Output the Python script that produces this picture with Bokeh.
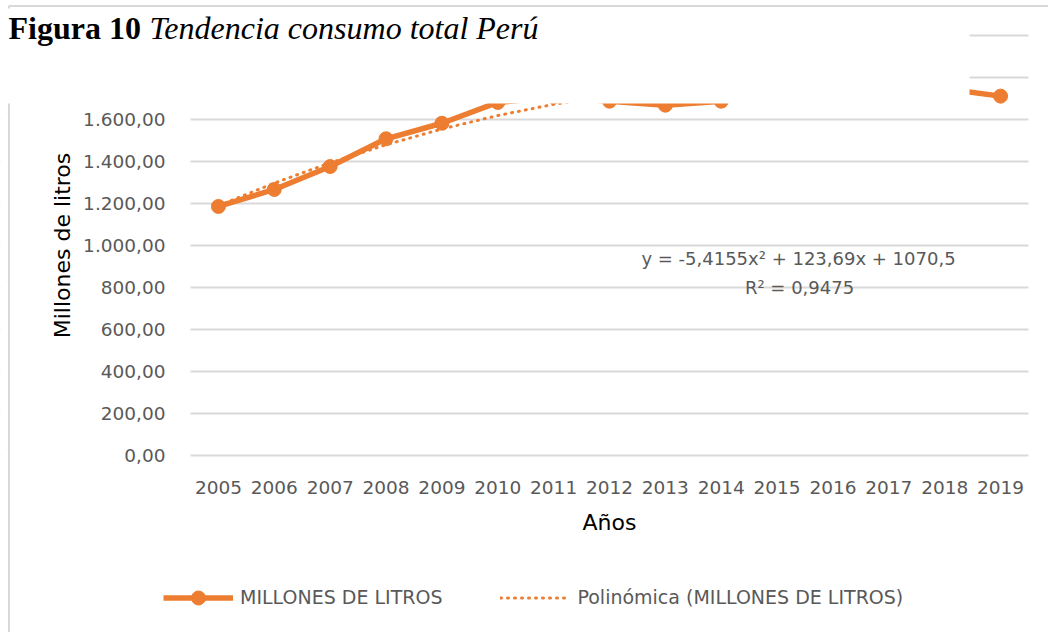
import numpy as np
from bokeh.plotting import figure
from bokeh.models import Range1d, FixedTicker, BoxAnnotation, Label, Legend, LegendItem
from bokeh.embed import file_html
from bokeh.resources import INLINE

# ---------------- data ----------------
years = [2005, 2006, 2007, 2008, 2009, 2010, 2011, 2012, 2013, 2014, 2015, 2016, 2017, 2018, 2019]
year_labels = [str(y) for y in years]
consumo = [1185, 1266, 1375, 1507, 1581, 1680, 1706, 1686, 1667, 1686, 1840, 1782, 1770, 1745, 1710]
trend_coef = [-5.4155, 123.69, 1070.5]   # polynomial trendline shown on the chart (x = 1..15)
y_ticks = [0, 200, 400, 600, 800, 1000, 1200, 1400, 1600, 1800, 2000]
y_tick_labels = ["0,00", "200,00", "400,00", "600,00", "800,00", "1.000,00",
                 "1.200,00", "1.400,00", "1.600,00", "1.800,00", "2.000,00"]
series_name = "MILLONES DE LITROS"
trend_name = "Polinómica (MILLONES DE LITROS)"
equation_text = "y = -5,4155x² + 123,69x + 1070,5"
r2_text = "R² = 0,9475"
title_bold = "Figura 10"
title_italic = "Tendencia consumo total Perú"

idx = np.arange(1, len(years) + 1)
trend = np.polyval(trend_coef, idx)

# ---------------- layout (pixels on the page) ----------------
W, H = 1048, 632
PA_L, PA_R = 190, 1028          # plot area left / right
PA_Y0, PA_YTOP = 455, 34.7      # pixel of value 0 and of the axis maximum
Y_MAX = 2000
ORANGE = "#ED7D31"
GREY_TXT = "#595959"
GRID = "#D9D9D9"
FONT = "DejaVu Sans"

px_per_cat = (PA_R - PA_L) / len(years)
px_per_unit = (PA_Y0 - PA_YTOP) / Y_MAX
x_first = years[0] - 0.5
x_last = years[-1] + 0.5
x_range = Range1d(x_first - PA_L / px_per_cat, x_first + (W - PA_L) / px_per_cat)
y_range = Range1d(-(H - PA_Y0) / px_per_unit, PA_Y0 / px_per_unit)

def sx(cx):      # page pixel -> screen units of the frame (frame == whole canvas)
    return cx

def sy(cy):
    return H - cy

p = figure(width=W, height=H, output_backend="svg", toolbar_location=None,
           x_range=x_range, y_range=y_range,
           min_border=0, min_border_left=0, min_border_right=0,
           min_border_top=0, min_border_bottom=0)
p.outline_line_color = None
p.background_fill_color = "white"
p.border_fill_color = "white"

# axes (drawn at the plot-area edges inside the canvas)
p.xaxis.fixed_location = 0
p.yaxis.fixed_location = x_first
p.xaxis.bounds = (x_first, x_last)
p.yaxis.bounds = (0, Y_MAX)
p.xaxis.ticker = FixedTicker(ticks=years)
p.xaxis.major_label_overrides = {y: s for y, s in zip(years, year_labels)}
p.yaxis.ticker = FixedTicker(ticks=y_ticks)
p.yaxis.major_label_overrides = {t: s for t, s in zip(y_ticks, y_tick_labels)}
for ax in (p.xaxis[0], p.yaxis[0]):
    ax.axis_line_color = None
    ax.major_tick_line_color = None
    ax.minor_tick_line_color = None
    ax.major_tick_out = 0
    ax.major_tick_in = 0
    ax.major_label_text_font = FONT
    ax.major_label_text_font_size = "18.5px"
    ax.major_label_text_color = GREY_TXT
    ax.axis_label_text_font = FONT
    ax.axis_label_text_font_size = "22px"
    ax.axis_label_text_font_style = "normal"
    ax.axis_label_text_color = "black"
p.xaxis.axis_label = "Años"
p.yaxis.axis_label = "Millones de litros"
p.xaxis.major_label_standoff = 25
p.yaxis.major_label_standoff = 25
p.xaxis.axis_label_standoff = 13
p.yaxis.axis_label_standoff = 5

p.xgrid.grid_line_color = None
p.ygrid.ticker = FixedTicker(ticks=y_ticks)
p.ygrid.grid_line_color = GRID
p.ygrid.grid_line_width = 2

# keep the gridlines inside the plot area
for l, r in ((0, PA_L), (PA_R, W + 10)):
    p.add_layout(BoxAnnotation(left=l, right=r, top=-10, bottom=H + 10,
                               left_units="canvas", right_units="canvas",
                               top_units="canvas", bottom_units="canvas",
                               fill_color="white", fill_alpha=1, line_color=None,
                               level="underlay"))

# series
r_line = p.line(years, consumo, line_color=ORANGE, line_width=5.5, line_join="round")
r_pts = p.scatter(years, consumo, size=14, fill_color=ORANGE, line_color=ORANGE)
r_trend = p.line(years, trend, line_color=ORANGE, line_width=3, line_dash="1 6", line_cap="round")

# chart border
p.add_layout(BoxAnnotation(left=8.5, right=W + 50, top=5.5, bottom=H + 50,
                           left_units="canvas", right_units="canvas",
                           top_units="canvas", bottom_units="canvas",
                           fill_color=None, fill_alpha=0, line_color=GRID,
                           line_width=2, line_alpha=1))
# white caption block that overlaps the top of the chart
p.add_layout(BoxAnnotation(left=-5, right=969, top=8, bottom=103,
                           left_units="canvas", right_units="canvas",
                           top_units="canvas", bottom_units="canvas",
                           fill_color="white", fill_alpha=1, line_color=None))

# caption
p.add_layout(Label(x=sx(8), y=sy(27), x_units="screen", y_units="screen",
                   text=title_bold, text_font="Liberation Serif", text_font_style="bold",
                   text_font_size="32px", text_color="black", text_baseline="middle"))
p.add_layout(Label(x=sx(149), y=sy(27), x_units="screen", y_units="screen",
                   text=title_italic, text_font="Liberation Serif", text_font_style="italic",
                   text_font_size="32px", text_color="black", text_baseline="middle"))

# trendline equation
p.add_layout(Label(x=sx(798), y=sy(258), x_units="screen", y_units="screen",
                   text=equation_text, text_font=FONT, text_font_size="18px",
                   text_color=GREY_TXT, text_align="center", text_baseline="middle"))
p.add_layout(Label(x=sx(799), y=sy(287), x_units="screen", y_units="screen",
                   text=r2_text, text_font=FONT, text_font_size="18px",
                   text_color=GREY_TXT, text_align="center", text_baseline="middle"))

legend = Legend(items=[LegendItem(label=series_name, renderers=[r_line, r_pts]),
                       LegendItem(label=trend_name, renderers=[r_trend])],
                orientation="horizontal", location=(sx(163), sy(614.5)),
                glyph_width=70, glyph_height=35, label_height=20, label_standoff=7,
                spacing=58, padding=0, margin=0,
                label_text_font=FONT, label_text_font_size="19px",
                label_text_color=GREY_TXT,
                border_line_color=None, background_fill_alpha=0)
p.add_layout(legend)

open("out.html", "w").write(file_html(p, INLINE))
